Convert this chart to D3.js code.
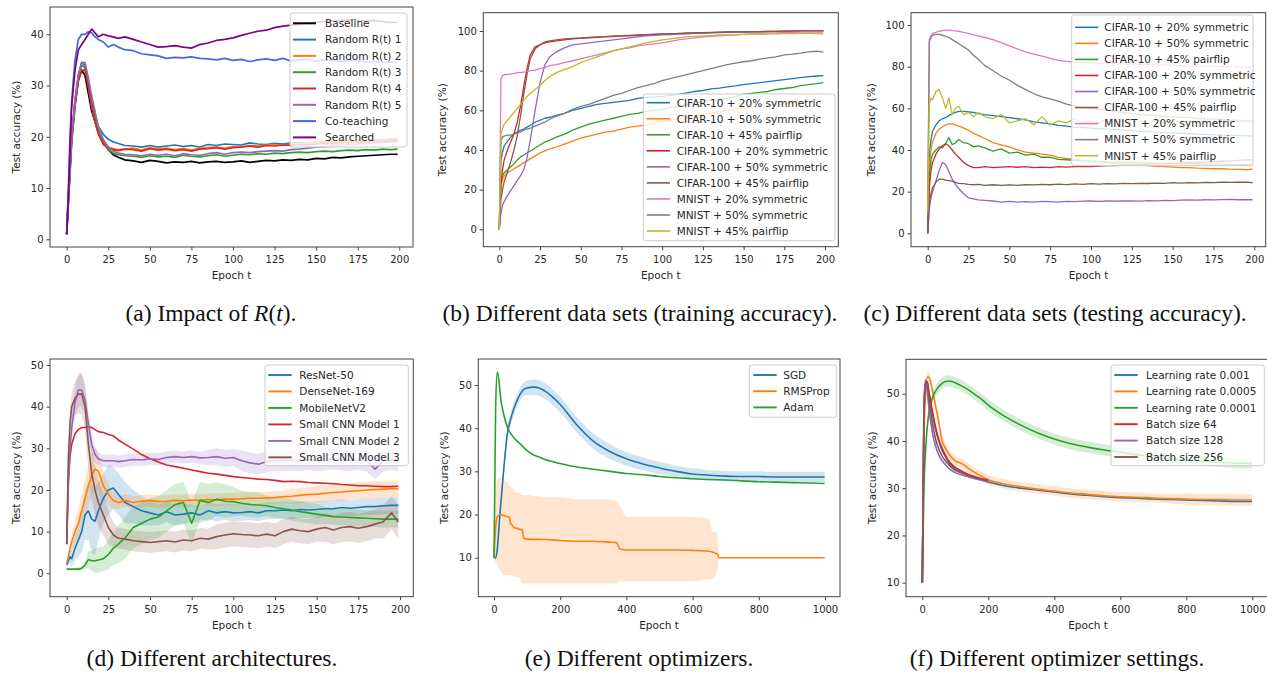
<!DOCTYPE html>
<html><head><meta charset="utf-8">
<script src="https://cdn.jsdelivr.net/npm/d3@7"></script>
<style>body{margin:0;background:#fff}svg{display:block}</style>
</head><body>
<svg id="c" width="1267" height="674"></svg>
<script>
// ---------- data ----------
const E200 = [0,1,2,3,5,7,9,11,13,15,17,19,22,25,28,31,35,40,45,50,55,60,65,70,75,80,85,90,95,100,105,110,115,120,125,130,135,140,145,150,155,160,165,170,175,180,185,190,195,199];
const E1000 = [0,5,10,15,20,30,40,50,60,70,80,90,100,120,140,160,180,200,250,300,350,400,450,500,550,600,650,700,750,800,850,900,950,999];
const E_RMS = [0,5,10,20,30,40,45,50,55,60,70,80,85,90,100,150,200,250,300,350,370,380,400,450,500,550,600,650,660,670,675,680,700,800,900,999];

const TICKS_200 = [0,25,50,75,100,125,150,175,200];
const TICKS_1000 = [0,200,400,600,800,1000];

// (a) Impact of R(t)
const A_LABELS = ["Baseline","Random R(t) 1","Random R(t) 2","Random R(t) 3","Random R(t) 4","Random R(t) 5","Co-teaching","Searched"];
const A_BASELINE = [1,7,13,19,26,31,33,32,28.5,25,23,21,19,17.5,16.5,16,15.5,15.3,15,15.4,15.2,14.9,15.1,15,15.2,14.9,15.1,15.2,15,15.1,15.3,15,15.2,15.4,15.3,15.5,15.4,15.6,15.5,15.8,15.7,16,15.9,16.1,16.2,16.3,16.4,16.5,16.6,16.6];
const A_R1 = [1,8,14,20,27,32,34.5,34,31,27,24,22,20.5,19.5,19,18.7,18.3,18.2,18,18.3,18,18.2,18.4,18.1,18.3,18,18.5,18.3,18.6,18.5,18.4,18.8,18.6,18.5,18.7,18.6,18.8,18.9,18.7,19,19.1,18.9,19.2,19.1,19.3,19.2,19.4,19.3,19.5,19.4];
const A_R2 = [1,8,14,20,27,31.5,34,33.5,30,26,23,21,19,18,17.7,17.5,17.6,17.8,17.4,17.9,17.6,17.8,17.5,17.7,17.4,17.8,17.9,18,17.8,18.1,18,18.3,18.2,18.4,18.5,18.4,18.6,18.5,18.7,18.8,18.9,18.8,19,19.1,19.2,19.3,19.3,19.4,19.6,19.6];
const A_R3 = [1,8,14,20,27,32,34,33.5,30.5,27,24,21.5,19,17.5,16.8,16.5,16.3,16.2,16,16.3,16.1,16.2,16,16.4,16.2,16.1,16.3,16.5,16.2,16.4,16.6,16.5,16.7,16.6,16.8,16.7,16.9,17,16.9,17.1,17.2,17.1,17.3,17.4,17.3,17.5,17.4,17.6,17.5,17.6];
const A_R4 = [1,8,14,20,26.5,31,33,33,30,26,23,20.5,18.5,17.8,17.5,17.3,17.6,17.5,17.2,17.7,17.4,17.6,17.3,17.5,17.2,17.6,17.7,17.9,17.6,17.9,18,18.2,18,18.3,18.2,18.4,18.3,18.5,18.4,18.6,18.7,18.6,18.8,18.9,18.9,19,19.1,19.1,19.2,19.2];
const A_R5 = [1,8,14,20,27,32,34.5,34.5,31.5,28,25,22,19.5,18,17.2,16.8,16.6,16.5,16.3,16.6,16.4,16.6,16.3,16.7,16.5,16.4,16.7,16.9,16.6,16.9,17,16.9,17.1,17.2,17.3,17.2,17.5,17.6,17.8,18,18.1,18.2,18.4,18.5,18.6,18.7,18.8,18.9,19,19];
const A_COTEACH = [1,10,20,27,35,39,40,40,40.5,40.3,39.5,39,38.5,37.5,38,37.5,37,36.8,36.2,36,35.8,35.3,35.5,35.4,35.6,35.3,35.2,35,35.3,34.9,35.1,34.7,35,35.2,34.9,35.3,34.8,35,35.1,34.8,35,34.9,34.7,34.9,34.8,34.6,34.7,34.5,34.6,34.5];
const A_SEARCHED = [1,8,18,26,33,37,38,39,40,41,40.3,39.5,40,39.7,39.5,39.2,39.5,39,38.5,38,37.5,37.6,37.8,37.5,37.3,38,38.3,38.8,39,39.3,39.8,40.2,40.6,40.8,41.3,41.6,41.8,42,42.2,42.4,42.5,42.6,42.7,42.8,42.7,42.6,42.7,42.5,42.3,42.3];

// (b)/(c) data sets
const DS_LABELS = ["CIFAR-10 + 20% symmetric","CIFAR-10 + 50% symmetric","CIFAR-10 + 45% pairflip","CIFAR-100 + 20% symmetric","CIFAR-100 + 50% symmetric","CIFAR-100 + 45% pairflip","MNIST + 20% symmetric","MNIST + 50% symmetric","MNIST + 45% pairflip"];
const B_C10_20 = [0,35,39,42,44.5,46.5,48,49,50,50.5,51.5,52.5,54,55,56,56.5,57.5,58.5,60,61,62,63,63.5,64,64.5,65,66,66.5,66.8,67,67.5,68,68.8,69.5,70,70.8,71.2,71.8,72.3,73,73.5,74,74.5,75,75.5,76,76.5,77,77.3,77.5];
const B_C10_50 = [0,22,25,27,28.5,29.5,30.5,31.5,32.5,33.5,34.5,35.5,37,38.5,39.5,40.5,41.5,43,44.5,46,47,48,49,49.5,50.5,51.5,52,52.5,53.5,54.5,55,55.8,56.5,57.2,58,58.5,59.2,59.8,60.3,61,61.5,62,62.5,63,63.4,63.8,64.2,64.6,65,65];
const B_C10_45 = [0,25,27,28.5,30,31.5,33,35,36.5,37.5,38.5,39.5,41,42.5,44,45,46.5,48,50,51.5,53,54,55,56,57,58,58.5,59.5,60,60.5,61.5,62,63,63.5,64.5,65,65.5,66,67,68,68.5,69,69.5,70.5,71,71.5,72.5,73,73.5,74];
const B_C100_20 = [0,22,30,35,40,44,48,54,62,72,81,88,92,93,94,94.5,95,95.5,96,96.3,96.5,96.8,97,97.2,97.5,97.6,97.8,98,98.2,98.4,98.5,98.6,98.8,99,99,99.2,99.3,99.4,99.5,99.6,99.7,99.7,99.8,99.8,99.9,100,100,100,100,100];
const B_C100_50 = [0,8,12,14,17,19.5,22,24.5,27,30,36,45,60,74,83,87,89.5,91.5,93,93.5,94,94.5,95,95.5,96,96.5,97,97.5,97.8,98,98.2,98.4,98.6,98.8,99,99.1,99.2,99.3,99.4,99.5,99.5,99.6,99.6,99.7,99.7,99.8,99.8,99.8,99.9,99.9];
const B_C100_45 = [0,15,20,24,29,34,40,47,57,68,78,86,91,93,94.5,95,95.5,96,96.3,96.5,96.8,97,97.2,97.5,97.6,97.8,98,98.2,98.4,98.5,98.6,98.8,99,99.1,99.2,99.3,99.4,99.5,99.6,99.6,99.7,99.7,99.8,99.8,99.9,99.9,100,100,100,100];
const B_M20 = [0,76,77.5,78,78,78.3,78.5,79,79,79.3,79.5,80,80.3,81,81.5,82.5,83,84,85,86,87,88,89,90,91,91.5,92.5,93,93.5,94,94.8,95.5,96,96.5,97,97.3,97.6,97.8,98,98.3,98.5,98.7,98.9,99,99.2,99.3,99.4,99.5,99.6,99.5];
const B_M50 = [0,45,46.5,47,47.5,47.5,48,48.5,49,50,50.5,51,52,53,54,55.5,57,58.5,60.5,62,63,64.5,66,67.5,68.5,70,71.5,72.5,73.5,75,76,77,78,79,80,81,82,83,83.8,84.5,85,85.8,86.5,87,88,88.3,88.8,89.5,89.8,89.3];
const B_M45 = [0,48,51,53,55,57,59,61,63,65,67,68.5,70.5,72.5,75,77,79,80.5,82,84,85.5,87,88.5,90,91,92,93,94,94.8,95.5,96,96.5,97,97.3,97.5,97.7,98,98,98.2,98.3,98.4,98.5,98.5,98.6,98.7,98.7,98.8,98.8,98.7,98.5];

const C_C10_20 = [0,38,45,49,52,54,55,55.5,56.5,57.5,58,58.5,58.5,58.3,58,57.5,57,56.5,56,55.5,55,54.5,53.5,53,52.5,51.8,51.5,51,50.8,50.5,50.2,50,49.8,49.5,49.3,49,48.8,48.5,48.3,48.2,48,47.8,47.6,47.5,47.3,47.2,47,47,46.8,46.8];
const C_C10_50 = [0,32,40,44,48,50,51,52,52.5,52.5,52,51.5,50.5,49.5,48,47,45.5,43.5,42.5,41.5,40,39,38.5,38,37.5,36.5,36,35.5,35,34.5,34,33.8,33.5,33.2,33,32.7,32.5,32.2,32,31.8,31.5,31.5,31.3,31.2,31,31,30.8,30.7,30.5,30.8];
const C_C10_45 = [0,28,35,38,40,41.5,41,43,46,42.5,43.5,45,43.5,43,41.5,42,41,39.5,40.5,38.5,39,37.5,38,36.5,36.5,35.5,35.3,35,34.8,34.5,34.5,34.3,34.2,34,34,33.8,33.8,33.6,33.5,33.5,33.4,33.3,33.3,33.2,33.2,33.1,33,33,33,33.2];
const C_C100_20 = [0,22,30,34,38,40.5,42,43,42,40,38,36.5,34,32.5,31.5,31.5,32,31.5,31.8,32,31.7,32,31.5,31.8,31.5,32,31.8,32,32.2,32,32.3,32.5,32.5,32.8,33,33,33.2,33.3,33.5,33.6,33.8,34,34,34.2,34.4,34.6,34.8,35,35.2,35.4];
const C_C100_50 = [0,12,17,20,25,30,34,33,29.5,26,23.5,21.5,19,17,16.5,16,15.8,15.5,15,15.3,15,15.2,15,15.3,15.2,15,15.3,15.2,15.4,15.5,15.3,15.5,15.4,15.6,15.5,15.4,15.7,15.6,15.8,15.7,15.9,16,15.9,16.1,16,16.2,16.3,16.1,16.2,16.1];
const C_C100_45 = [0,14,19,22,24.5,26,26,25.5,25.3,25,24.5,24,23.8,23.5,23.3,23.5,23,23.3,23,23.2,23,23.4,23.2,23.5,23.3,23.6,23.4,23.7,23.5,23.8,23.6,23.8,23.7,24,23.8,24,23.9,24.1,24,24.3,24.1,24.3,24.2,24.4,24.3,24.5,24.4,24.6,24.5,24.3];
const C_M20 = [12,93,95,96,96.5,97,97.3,97.5,97.5,97.3,97.2,97,96.5,96,95.3,94.8,94,93,91.5,90,88.5,87,86,85,84,83,82.5,82.2,82,81.8,81.7,81.5,81.4,81.3,81.2,81,81,80.8,80.7,80.6,80.5,80.4,80.3,80.2,80.1,80,80,79.9,79.8,79.8];
const C_M50 = [8,92,94,95,95.5,95.5,95,94.5,94,93,92,91,89.5,88,85.5,83.5,80.5,78,75.5,73.5,71,69,67,65.5,64.5,63.5,62,61,60.5,60,59.5,59,58.5,58,57.5,57,56.8,56.5,56.2,56,55.7,55.5,55.2,55,54.8,54.6,54.4,54.2,54,54];
const C_M45 = [10,62,65,64,68,69,65,60,65,57,60,61,57,58,56,58,56,55,57,53,54,55,52,56,52,54,53,55,53,54,53,55,53,54,53.5,54,53,54.5,53,54,53.5,54,53,54,53.5,54,53.5,54,53.5,53.5];

// (d) architectures
const D_LABELS = ["ResNet-50","DenseNet-169","MobileNetV2","Small CNN Model 1","Small CNN Model 2","Small CNN Model 3"];
const D_RES = [2,3,4,3.5,6,8,10,14,15,13,12.5,15,18,20,20.5,19,17,16,15,14.5,14,14.8,14,14.2,14.5,14,15,14.5,14.8,14.5,14.6,14.8,14.5,15,15,15.2,15,15.3,15.2,15.3,15.5,15.5,15.8,15.6,15.8,16,16,16.2,16.3,16.3];
const D_RES_SD = [1,1,1.5,2,3,4,5,6,7,8,8,7,6,6,5,5,5,4,3.5,3,2.5,2.5,2.5,2.5,2,2,2,2,2,2,2,2,2,2,2,2,2,2,2,2,2,2,2,2,2,2,2,2,2,2];
const D_DEN = [2.5,4,6,7.5,10,12,15,18,21,23.5,25,24.5,21,19,17.5,17,17.5,17,17.3,17.5,17.2,17.3,17.5,17.4,17.6,17.5,17.7,17.6,17.8,17.8,17.9,18,18,18.1,18.2,18.4,18.5,18.7,18.9,19,19.2,19.4,19.5,19.7,19.8,20,20.1,20.2,20.3,20.3];
const D_DEN_SD = [0.5,1,1.5,2,3,3.5,4,4.5,5,5,5,4.5,3.5,2.5,2,1.5,1.5,1.5,1.5,1.5,1.5,1.5,1.5,1.5,1.5,1.5,1.5,1.5,1.5,1.5,1.5,1.5,1.5,1.5,1.5,1.5,1.8,1.8,1.8,2,2,2,2,2,2,2,2,2,2,2];
const D_MOB = [1,1,1,1,1,1,1.2,2,3.3,3,3,3.2,3.5,4.5,6,7,8.5,11,12,13,13.5,15,16.5,17,12,17.5,17,17.8,17.3,17.2,16.8,16.5,16.4,16.2,15.8,15.5,15.2,14.8,14.5,14.2,13.9,13.6,13.5,13.4,13.3,13.2,13.1,13,13,13];
const D_MOB_SD = [0.3,0.3,0.3,0.3,0.3,0.5,0.5,1,2,2.5,3,3,3,3.5,4,4.5,5,5,5,5,5,5,5,5,5,4.5,4.5,4,4,3.5,3,3,3,2.5,2.5,2.5,2.5,2.5,2.5,2.5,2,2,2,2,2,2,2,2,2,2];
const D_S1 = [7,22,28,31,33.5,34.5,35,35,35.2,35,34.5,34,33.8,33.3,33,32,31,29.8,28.5,27.5,26.7,26,25.6,25.2,24.8,24.4,24,23.8,23.5,23.2,23,22.8,22.6,22.5,22.3,22,22.1,22,21.8,21.7,21.6,21.5,21.3,21.2,21,21,20.9,20.8,20.8,20.9];
const D_S2 = [7,22,30,35,41,44,44,41.5,36,31,28.5,27.5,27,27,27,26.8,27,27.3,27.2,27.5,27.3,27.8,28,27.8,28,27.7,27.8,28,27.6,27.8,27,26.5,26.2,26.8,27,27,27.2,27,27.3,27,27.2,27.4,27.2,27,27.3,27,25,27,27.3,27];
const D_S2_SD = [0.5,2,3,3,3.5,4,4,3.5,3,2.5,2,1.5,1.5,1.5,1.5,1.5,1.5,1.5,1.5,1.5,1.5,1.5,1.5,1.5,1.5,1.5,1.8,2,2,2,2.5,2.5,2.5,2.5,2.5,2.5,2.5,2.5,2.5,2.5,2.5,2.5,2.5,2.5,2.5,2.5,2.5,2.5,2.5,2.5];
const D_S3 = [7,28,36,40,42,43,43,40,31,24,20,17,14,11,9.2,8.4,8.2,7.8,7.6,7.4,7.6,7.8,7.5,8,7.8,8.4,8.2,8.8,9.2,9.5,9.3,9.2,9,9.4,9,10,10.6,10.2,10,10.6,11,10.4,11,11.2,10.8,11.2,11.8,12.4,14.5,12.3];
const D_S3_SD = [0.5,2,3,3.5,4,4.5,5,5.5,6,6.5,6,5.5,5,4,3,2.5,2.5,2.5,2.5,2.5,2.5,2.5,2.5,2.5,2.5,2.5,2.5,3,3,3,3,3,3,3,3,3,3,3,3,3,3.5,3.5,3.5,3.5,3.5,3.5,3.5,4,4,4];

// (e) optimizers
const E_LABELS = ["SGD","RMSProp","Adam"];
const E_SGD = [10,10,12,17,22,31,38.5,42,44.5,46.5,48,49,49.3,49.5,49.2,48.3,47,45.5,40.8,37,34.6,32.9,31.7,30.8,30,29.4,29.1,28.9,28.8,28.8,28.7,28.7,28.7,28.7];
const E_SGD_SD = [0.3,0.5,0.8,1,1.2,1.5,1.5,1.5,1.5,1.5,1.5,1.6,1.7,1.8,1.8,1.8,1.8,1.8,1.8,1.8,1.7,1.6,1.5,1.4,1.3,1.3,1.2,1.2,1.2,1.2,1.2,1.2,1.2,1.2];
const E_RMSPROP = [10,17,19.5,20,19.8,19.5,19.5,18,17.5,17,16.8,16.5,16.5,14.5,14.3,14.2,14,13.8,13.8,13.6,13.5,12,11.8,11.8,11.8,11.8,11.7,11.5,11.3,11,10.8,10,10,10,10,10];
const E_RMS_HI = [10,26,28,28.5,28,27.5,27,26.5,26,25.5,25,25,24.5,24.5,24.5,24,24,23.5,23.5,23.5,23,22,19.5,19.5,19.5,19.5,19.5,19,16,16,15.5,10,10,10,10,10];
const E_RMS_LO = [10,9,8.5,7,6,6,6,6,6,5.5,5.5,5,4,4,4,4,4,4,4,4,4,4.5,4.5,4.5,4.5,4.5,4.5,5,5,6,7,10,10,10,10,10];
const E_ADAM = [10,45,53,51,47,43,40.3,38.8,37.8,37,36.3,35.5,34.8,33.8,33.2,32.6,32.2,31.8,31,30.5,30,29.5,29.2,28.8,28.5,28.3,28.1,28,27.8,27.6,27.5,27.4,27.3,27.2];

// (f) optimizer settings
const F_LABELS = ["Learning rate 0.001","Learning rate 0.0005","Learning rate 0.0001","Batch size 64","Batch size 128","Batch size 256"];
const F_LR1 = [10,45,52,52.5,50,46,42.5,40,38,36.7,35.5,34.7,34,33.3,32.6,32.1,31.7,31.3,30.5,30,29.6,29.2,28.8,28.5,28.2,28,27.9,27.7,27.6,27.5,27.4,27.3,27.2,27.2];
const F_LR5 = [10,40,50,53.5,53.5,51,47.5,44,40,38.5,37.3,36.4,35.8,35.2,34.2,33.3,32.5,31.8,30.9,30.3,29.8,29.4,29,28.7,28.4,28.2,28.1,27.9,27.8,27.7,27.6,27.6,27.5,27.5];
const F_LR5_SD = [0.3,1,1,1,1,1,1,1,1,1,1,1,1,1,1,1,1,1,1,1,1,1,1,1,1,1,1,1,1,1.2,1.2,1.2,1.2,1.2];
const F_LR01 = [10,30,38,43,46,49,50.5,51.5,52.2,52.6,52.7,52.6,52.3,51.6,50.8,49.8,48.8,47.6,45.2,43.3,41.7,40.4,39.4,38.7,38.1,37.6,37.1,36.6,36.2,35.9,35.7,35.5,35.3,35.2];
const F_LR01_SD = [0.3,1,1,1,1,1.2,1.2,1.2,1.2,1.2,1.2,1.2,1.2,1.2,1.2,1.2,1.2,1.2,1.2,1.2,1.2,1.2,1.2,1.2,1.2,1.2,1.2,1.2,1.2,1.2,1,1,1,1];
const F_BS64 = [10,45,52,52.5,50.5,46.5,43,40.3,38.5,37,35.8,35,34.4,33.6,32.9,32.4,32,31.7];
const F_BS128 = [10,48,53,50.5,47,42,39,37,35.8,35,34.2,33.7,33.3,32.8,32.4,32,31.7,31.5];
const F_BS256 = [10,47,52.5,52,49,44,40.5,38.3,36.8,35.8,35,34.3,33.8,33.2,32.7,32.2,31.9,31.6];

// ---------- drawing ----------
const T10 = ["#1f77b4","#ff7f0e","#2ca02c","#d62728","#9467bd","#8c564b","#e377c2","#7f7f7f","#bcbd22"];
const svg = d3.select("#c");
const SANS = "DejaVu Sans";
let clipN = 0;

function panel(cfg){
  const g = svg.append("g");
  const x = d3.scaleLinear().domain(cfg.xd).range(cfg.xr);
  const y = d3.scaleLinear().domain(cfg.yd).range(cfg.yr);
  const [L,T,R,B] = cfg.frame;
  const id = "clip" + (clipN++);
  svg.append("clipPath").attr("id", id).append("rect")
     .attr("x", L).attr("y", T).attr("width", R - L).attr("height", B - T);
  const plot = g.append("g").attr("clip-path", `url(#${id})`);
  const curve = cfg.curve || d3.curveLinear;
  cfg.series.forEach(s => {
    if (!(s.sd || s.lo)) return;
    const area = d3.area().curve(curve)
      .x((d,i) => x(s.x[i]))
      .y0((d,i) => y(s.lo ? s.lo[i] : s.y[i] - s.sd[i]))
      .y1((d,i) => y(s.hi ? s.hi[i] : s.y[i] + s.sd[i]));
    plot.append("path").datum(s.y).attr("d", area)
      .attr("fill", s.color).attr("fill-opacity", cfg.bandOpacity || 0.2);
  });
  cfg.series.forEach(s => {
    const line = d3.line().curve(curve).x((d,i) => x(s.x[i])).y(d => y(d));
    plot.append("path").datum(s.y).attr("d", line)
      .attr("fill", "none").attr("stroke", s.color)
      .attr("stroke-width", cfg.lw).attr("stroke-linejoin", "round");
  });
  g.append("rect").attr("x", L).attr("y", T).attr("width", R - L).attr("height", B - T)
    .attr("fill", "none").attr("stroke", "#444").attr("stroke-width", 1);

  const xa = g.append("g").attr("transform", `translate(0,${B})`)
    .call(d3.axisBottom(x).tickValues(cfg.xt).tickFormat(d3.format("d")).tickSize(3.5).tickPadding(5.5));
  const ya = g.append("g").attr("transform", `translate(${L},0)`)
    .call(d3.axisLeft(y).tickValues(cfg.yt).tickFormat(d3.format("d")).tickSize(3.5).tickPadding(3));
  [xa, ya].forEach(a => {
    a.select(".domain").remove();
    a.selectAll("line").attr("stroke", "#444");
    a.selectAll("text").attr("font-family", SANS).attr("font-size", 10).attr("fill", "#262626");
  });
  g.append("text").attr("x", cfg.xlab[0]).attr("y", cfg.xlab[1]).attr("text-anchor", "middle")
    .attr("font-family", SANS).attr("font-size", 10.5).attr("fill", "#262626").text("Epoch t");
  g.append("text").attr("transform", `translate(${cfg.ylab[0]},${cfg.ylab[1]}) rotate(-90)`)
    .attr("text-anchor", "middle").attr("font-family", SANS).attr("font-size", 10.5)
    .attr("fill", "#262626").text("Test accuracy (%)");

  const lg = cfg.legend;
  g.append("rect").attr("x", lg.box[0]).attr("y", lg.box[1])
    .attr("width", lg.box[2] - lg.box[0]).attr("height", lg.box[3] - lg.box[1])
    .attr("rx", 2.5).attr("fill", "#fff").attr("fill-opacity", 0.8)
    .attr("stroke", "#cccccc").attr("stroke-width", 1);
  cfg.series.forEach((s, i) => {
    const yy = lg.y0 + i * lg.dy;
    g.append("line").attr("x1", lg.lx[0]).attr("x2", lg.lx[1]).attr("y1", yy).attr("y2", yy)
      .attr("stroke", s.color).attr("stroke-width", cfg.lw + 0.3);
    g.append("text").attr("x", lg.tx).attr("y", yy + 3.8).attr("font-family", SANS)
      .attr("font-size", 10.5).attr("fill", "#262626").text(s.label);
  });
}

function caption(xc, yb, parts){
  const t = svg.append("text").attr("x", xc).attr("y", yb).attr("text-anchor", "middle")
    .attr("font-family", "Liberation Serif").attr("font-size", 23.5).attr("fill", "#111");
  parts.forEach(p => t.append("tspan").attr("font-style", p[1] ? "italic" : "normal").text(p[0]));
}

const mk = (labels, xs, ys, colors, extra) => labels.map((l, i) =>
  Object.assign({label: l, x: xs, y: ys[i], color: colors[i]}, (extra && extra[i]) || {}));

// (a)
panel({
  frame: [50, 7, 413, 247], xd: [0, 200], xr: [66.7, 399.3], yd: [0, 40], yr: [239.3, 34.3],
  xt: TICKS_200, yt: [0,10,20,30,40], lw: 1.7, xlab: [231.5, 278.5], ylab: [19.5, 127],
  series: mk(A_LABELS, E200, [A_BASELINE,A_R1,A_R2,A_R3,A_R4,A_R5,A_COTEACH,A_SEARCHED],
    ["#000000",T10[0],T10[1],T10[2],T10[3],T10[4],"#4169e1","#800080"]),
  legend: {box: [290, 13, 407, 147], y0: 23.3, dy: 16.3, lx: [293, 316], tx: 325}
});
// (b)
panel({
  frame: [483.3, 12.7, 838.3, 246.7], xd: [0, 200], xr: [499.3, 825], yd: [0, 100], yr: [229.3, 31],
  xt: TICKS_200, yt: [0,20,40,60,80,100], lw: 1.3, xlab: [660.8, 278.5], ylab: [446, 129.7],
  series: mk(DS_LABELS, E200, [B_C10_20,B_C10_50,B_C10_45,B_C100_20,B_C100_50,B_C100_45,B_M20,B_M50,B_M45], T10),
  legend: {box: [643.3, 94, 835, 240.7], y0: 102.7, dy: 16.04, lx: [646.7, 670], tx: 676.7}
});
// (c)
panel({
  frame: [911, 12.7, 1265.7, 246.7], xd: [0, 200], xr: [927.7, 1254.3], yd: [0, 100], yr: [233.3, 25],
  xt: TICKS_200, yt: [0,20,40,60,80,100], lw: 1.3, xlab: [1088.5, 278.5], ylab: [874.5, 129.7],
  series: mk(DS_LABELS, E200, [C_C10_20,C_C10_50,C_C10_45,C_C100_20,C_C100_50,C_C100_45,C_M20,C_M50,C_M45], T10),
  legend: {box: [1071.7, 15, 1253, 165.7], y0: 27.3, dy: 16.05, lx: [1075, 1098.3], tx: 1104.3}
});
// (d)
panel({
  frame: [50, 359, 413.3, 596.7], xd: [0, 200], xr: [66.7, 400], yd: [0, 50], yr: [573.3, 365],
  xt: TICKS_200, yt: [0,10,20,30,40,50], lw: 1.6, xlab: [231.7, 628.5], ylab: [19.5, 477.8],
  series: mk(D_LABELS, E200, [D_RES,D_DEN,D_MOB,D_S1,D_S2,D_S3], T10,
    [{sd: D_RES_SD},{sd: D_DEN_SD},{sd: D_MOB_SD},{},{sd: D_S2_SD},{sd: D_S3_SD}]),
  legend: {box: [265, 365, 408.3, 465.7], y0: 375, dy: 16.47, lx: [268.3, 291.7], tx: 299.3}
});
// (e)
panel({
  frame: [478.3, 359, 840, 596.7], xd: [0, 1000], xr: [494, 825], yd: [10, 50], yr: [557.7, 385],
  xt: TICKS_1000, yt: [10,20,30,40,50], lw: 1.6, xlab: [659, 628.5], ylab: [447.5, 477.8],
  curve: d3.curveMonotoneX,
  series: [
    {label: E_LABELS[0], x: E1000, y: E_SGD, color: T10[0], sd: E_SGD_SD},
    {label: E_LABELS[1], x: E_RMS, y: E_RMSPROP, color: T10[1], lo: E_RMS_LO, hi: E_RMS_HI},
    {label: E_LABELS[2], x: E1000, y: E_ADAM, color: T10[2]}
  ],
  legend: {box: [749.3, 365, 836.7, 417.3], y0: 375, dy: 16.2, lx: [753.3, 776.7], tx: 783.3}
});
// (f)
panel({
  frame: [906, 359.3, 1268.8, 596.7], xd: [0, 1000], xr: [922.3, 1252.3], yd: [10, 50], yr: [582.7, 393.7],
  xt: TICKS_1000, yt: [10,20,30,40,50], lw: 1.6, xlab: [1088, 628.5], ylab: [875.5, 477.8],
  curve: d3.curveMonotoneX,
  series: [
    {label: F_LABELS[0], x: E1000, y: F_LR1, color: T10[0]},
    {label: F_LABELS[1], x: E1000, y: F_LR5, color: T10[1], sd: F_LR5_SD},
    {label: F_LABELS[2], x: E1000, y: F_LR01, color: T10[2], sd: F_LR01_SD},
    {label: F_LABELS[3], x: E1000, y: F_BS64, color: T10[3]},
    {label: F_LABELS[4], x: E1000, y: F_BS128, color: T10[4]},
    {label: F_LABELS[5], x: E1000, y: F_BS256, color: T10[5]}
  ],
  legend: {box: [1111, 365, 1264.3, 465.7], y0: 375, dy: 16.4, lx: [1114.3, 1137.7], tx: 1146}
});

caption(211, 321, [["(a) Impact of ",0],["R",1],["(",0],["t",1],[").",0]]);
caption(640, 321, [["(b) Different data sets (training accuracy).",0]]);
caption(1055, 321, [["(c) Different data sets (testing accuracy).",0]]);
caption(212, 665.5, [["(d) Different architectures.",0]]);
caption(639, 665.5, [["(e) Different optimizers.",0]]);
caption(1057, 665.5, [["(f) Different optimizer settings.",0]]);
</script>
</body></html>
